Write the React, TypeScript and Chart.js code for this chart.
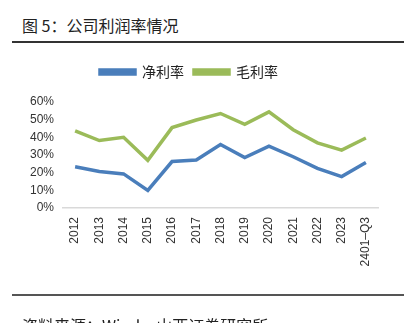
import React, { useEffect, useRef } from "react";
import { Chart, registerables } from "chart.js";

Chart.register(...registerables);

const categories = ["2012", "2013", "2014", "2015", "2016", "2017", "2018", "2019", "2020", "2021", "2022", "2023", "2401–Q3"];
const netMargin = [23.3, 20.7, 19.3, 10.0, 26.3, 27.2, 35.9, 28.5, 35.0, 29.0, 22.4, 17.8, 25.7];
const grossMargin = [43.7, 38.2, 40.0, 27.0, 45.5, 49.8, 53.5, 47.4, 54.4, 44.3, 36.9, 32.8, 39.6];
const seriesNames = ["净利率", "毛利率"];
const yTicks = [0, 10, 20, 30, 40, 50, 60];

const BLUE = "#4a7ebb";
const GREEN = "#9bbb59";

const legendSpacing = {
  id: "legendSpacing",
  beforeInit(chart: any) {
    const legend = chart.legend;
    if (!legend) return;
    const orig = legend.fit;
    legend.fit = function () {
      orig.call(this);
      this.height += 13;
    };
  },
};

export default function App() {
  const ref = useRef<HTMLCanvasElement | null>(null);

  useEffect(() => {
    document.body.style.margin = "0";
    const canvas = ref.current;
    if (!canvas) return;
    const chart = new Chart(canvas, {
      type: "line",
      data: {
        labels: categories,
        datasets: [
          {
            label: seriesNames[0],
            data: netMargin,
            borderColor: BLUE,
            backgroundColor: BLUE,
            borderWidth: 3.5,
            pointRadius: 0,
            tension: 0,
          },
          {
            label: seriesNames[1],
            data: grossMargin,
            borderColor: GREEN,
            backgroundColor: GREEN,
            borderWidth: 3.5,
            pointRadius: 0,
            tension: 0,
          },
        ],
      },
      plugins: [legendSpacing],
      options: {
        animation: false,
        responsive: false,
        layout: { padding: { left: 0, right: 31, top: 10, bottom: 0 } },
        plugins: {
          tooltip: { enabled: false },
          legend: {
            display: true,
            position: "top",
            labels: {
              boxWidth: 35,
              boxHeight: 4,
              padding: 10,
              color: "#222",
              font: { family: "'Noto Sans CJK SC', 'Liberation Sans', sans-serif", size: 14 },
            },
          },
        },
        scales: {
          x: {
            type: "category",
            offset: true,
            grid: { display: false, drawTicks: false },
            border: { display: true, color: "#d9d9d9", width: 1.5 },
            ticks: {
              autoSkip: false,
              minRotation: 90,
              maxRotation: 90,
              padding: 9,
              color: "#333",
              font: { family: "'Liberation Sans', Arial, sans-serif", size: 12 },
            },
            afterFit: (s: any) => {
              s.height = 87;
            },
          },
          y: {
            min: 0,
            max: 60,
            afterBuildTicks: (s: any) => {
              s.ticks = yTicks.map((v) => ({ value: v }));
            },
            grid: { display: false, drawTicks: false },
            border: { display: false },
            ticks: {
              padding: 9,
              color: "#333",
              font: { family: "'Liberation Sans', Arial, sans-serif", size: 12 },
              callback: (v: any) => `${v}%`,
            },
            afterFit: (s: any) => {
              s.width = 63;
            },
          },
        },
      },
    });
    return () => chart.destroy();
  }, []);

  const cjk = "'Noto Sans CJK SC', 'Liberation Serif', sans-serif";

  return (
    <div style={{ position: "fixed", left: 0, top: 0, width: 409, height: 323, background: "#fff", overflow: "hidden" }}>
      <div style={{ position: "absolute", left: 22, top: 13, fontFamily: cjk, fontSize: 16, color: "#222", lineHeight: "24px", whiteSpace: "nowrap" }}>
        图 5：公司利润率情况
      </div>
      <div style={{ position: "absolute", left: 12, top: 41, width: 392, height: 1.5, background: "#333" }} />
      <canvas ref={ref} width={409} height={250} style={{ position: "absolute", left: 0, top: 45, width: 409, height: 250 }} />
      <div style={{ position: "absolute", left: 12, top: 294, width: 392, height: 1.5, background: "#555" }} />
      <div style={{ position: "absolute", left: 22, top: 313, fontFamily: cjk, fontSize: 16, color: "#222", lineHeight: "24px", whiteSpace: "nowrap" }}>
        资料来源：Wind，山西证券研究所
      </div>
    </div>
  );
}
